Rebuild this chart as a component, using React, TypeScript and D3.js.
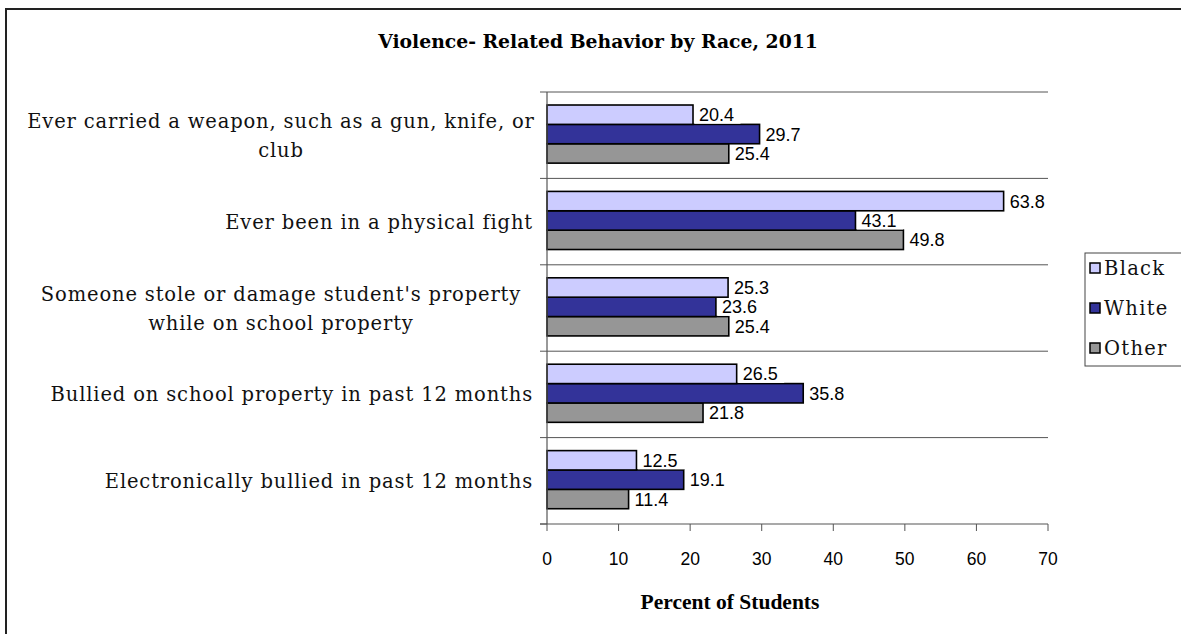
import React from 'react';
import * as d3 from 'd3';

const categories: string[][] = [
  ['Ever carried a weapon, such as a gun, knife, or', 'club'],
  ['Ever been in a physical fight'],
  ["Someone stole or damage student's property", 'while on school property'],
  ['Bullied on school property in past 12 months'],
  ['Electronically bullied in past 12 months'],
];
const seriesNames = ['Black', 'White', 'Other'];
const seriesColors = ['#ccccff', '#333399', '#969696'];
const black = [20.4, 63.8, 25.3, 26.5, 12.5];
const white = [29.7, 43.1, 23.6, 35.8, 19.1];
const other = [25.4, 49.8, 25.4, 21.8, 11.4];
const xTicks = [0, 10, 20, 30, 40, 50, 60, 70];

const W = 1181;
const H = 634;
const serif = '"DejaVu Serif", serif';
const sans = '"Liberation Sans", Arial, sans-serif';

const App: React.FC = () => {
  const values = [black, white, other];
  const x = d3.scaleLinear().domain([0, 70]).range([547, 1048]);
  const catIdx = categories.map((_, i) => i);
  const y0 = d3.scaleBand<number>().domain(catIdx).range([92, 524]);
  const y1 = d3.scaleBand<number>().domain([0, 1, 2]).range([0, y0.bandwidth()])
    .paddingInner(0).paddingOuter(0.73).align(0.46);
  const bounds = [...catIdx.map(i => y0(i)!), 524];

  // draw series back to front so later bars overlap earlier labels
  const order = [2, 1, 0];

  return (
    <svg width={W} height={H} style={{ position: 'absolute', left: 0, top: 0, background: '#fff' }}>
      <rect x={6} y={9} width={1300} height={800} fill="#fff" stroke="#222" strokeWidth={2} />
      <text x={598} y={48} textAnchor="middle" fontFamily={serif} fontWeight="bold" fontSize={18.8}>
        Violence- Related Behavior by Race, 2011
      </text>

      {bounds.map((b, i) => (
        <g key={i}>
          {i < bounds.length - 1 && (
            <line x1={x(0)} x2={x(70)} y1={b} y2={b} stroke="#555" strokeWidth={1} />
          )}
          <line x1={x(0) - 7} x2={x(0)} y1={b} y2={b} stroke="#555" strokeWidth={1} />
        </g>
      ))}

      {order.map(s => (
        <g key={s}>
          {values[s].map((v, i) => {
            const yb = y0(i)! + y1(s)!;
            const h = y1.bandwidth();
            const label = v.toFixed(1);
            const tw = label.length * 9.5;
            return (
              <g key={i}>
                <rect x={x(0)} y={yb} width={x(v) - x(0)} height={h} fill={seriesColors[s]} stroke="#000" strokeWidth={1.6} />
                <rect x={x(v) + 1.5} y={yb + h / 2 - 9} width={tw + 8} height={18} fill="#fff" />
                <text x={x(v) + 6} y={yb + h / 2 + 6.5} fontFamily={sans} fontSize={18}>{label}</text>
              </g>
            );
          })}
        </g>
      ))}

      <line x1={x(0)} x2={x(0)} y1={92} y2={524} stroke="#555" strokeWidth={1.2} />
      <line x1={x(0) - 7} x2={x(70)} y1={524} y2={524} stroke="#555" strokeWidth={1.2} />
      {xTicks.map(t => (
        <g key={t}>
          <line x1={x(t)} x2={x(t)} y1={524} y2={531} stroke="#555" strokeWidth={1} />
          <text x={x(t)} y={565} textAnchor="middle" fontFamily={sans} fontSize={17.5}>{t}</text>
        </g>
      ))}
      <text x={730} y={609} textAnchor="middle" fontFamily='"Liberation Serif", "Times New Roman", serif' fontWeight="bold" fontSize={21.5}>
        Percent of Students
      </text>

      {categories.map((lines, i) => {
        const cy = y0(i)! + y0.bandwidth() / 2;
        const lh = 29;
        const start = cy - ((lines.length - 1) * lh) / 2;
        return (
          <text key={i} textAnchor={lines.length > 1 ? 'middle' : 'end'} fontFamily={serif} fontSize={19.5} letterSpacing={0.85} fill="#111">
            {lines.map((l, j) => (
              <tspan key={j} x={lines.length > 1 ? 281 : 533} y={start + j * lh + 7}>{l}</tspan>
            ))}
          </text>
        );
      })}

      <rect x={1085} y={253} width={200} height={113} fill="#fff" stroke="#444" strokeWidth={1} />
      {seriesNames.map((n, i) => (
        <g key={n}>
          <rect x={1090} y={263 + i * 40} width={10} height={10} fill={seriesColors[i]} stroke="#000" strokeWidth={1.5} />
          <text x={1104} y={275 + i * 40} fontFamily={serif} fontSize={19.5} letterSpacing={1.3} fill="#111">{n}</text>
        </g>
      ))}
    </svg>
  );
};

export default App;
